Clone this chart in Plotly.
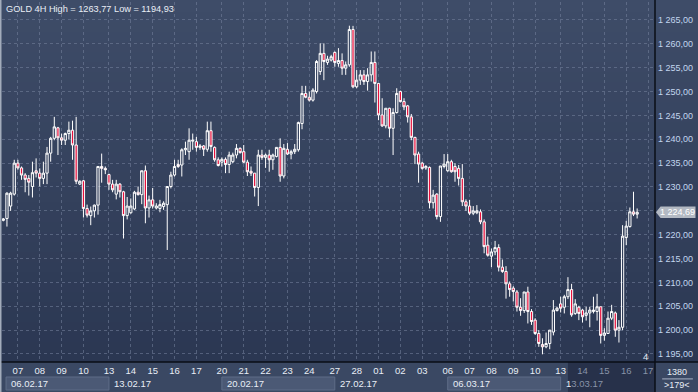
import pandas as pd
import plotly.graph_objects as go

# ---------------- data ----------------
opens = [1223.0, 1223.4, 1226.0, 1228.5, 1235.0, 1234.0, 1232.5, 1231.8, 1230.1, 1233.4,
         1232.9, 1231.8, 1232.9, 1237.1, 1240.2, 1242.4, 1240.3, 1239.8, 1241.2, 1241.9,
         1238.8, 1230.6, 1231.3, 1225.5, 1224.0, 1225.0, 1226.2, 1234.3, 1233.9, 1232.6,
         1230.6, 1228.5, 1230.6, 1229.0, 1224.0, 1224.6, 1225.4, 1228.9, 1228.4, 1233.4,
         1225.6, 1227.3, 1225.6, 1225.5, 1225.9, 1226.3, 1230.1, 1232.5, 1234.7, 1234.6,
         1237.8, 1237.4, 1239.6, 1239.5, 1238.3, 1238.6, 1237.9, 1241.8, 1238.3, 1235.7,
         1235.2, 1235.8, 1234.7, 1235.3, 1236.7, 1238.1, 1237.4, 1235.2, 1233.3, 1232.9,
         1229.9, 1236.7, 1236.2, 1236.7, 1235.7, 1236.4, 1238.3, 1232.3, 1237.9, 1236.9,
         1237.4, 1237.8, 1243.3, 1249.6, 1248.8, 1248.2, 1250.0, 1254.2, 1258.0, 1256.1,
         1256.6, 1258.2, 1255.9, 1256.5, 1254.9, 1255.6, 1263.0, 1251.0, 1252.4, 1253.5,
         1252.1, 1253.5, 1256.1, 1251.7, 1245.1, 1242.8, 1246.5, 1242.3, 1245.6, 1250.0,
         1247.9, 1247.0, 1244.7, 1240.4, 1236.9, 1235.0, 1234.0, 1234.1, 1226.7, 1228.5,
         1223.8, 1234.3, 1233.4, 1235.3, 1234.3, 1233.9, 1231.8, 1226.9, 1226.0, 1224.5,
         1224.6, 1224.8, 1222.7, 1217.8, 1215.5, 1216.4, 1217.3, 1213.2, 1212.3, 1209.7,
         1208.8, 1208.0, 1204.8, 1204.1, 1208.0, 1203.9, 1202.1, 1199.3, 1197.0, 1196.5,
         1197.2, 1199.6, 1204.1, 1205.5, 1204.8, 1207.0, 1208.5, 1203.5, 1204.8, 1204.2,
         1203.1, 1203.6, 1203.9, 1203.9, 1204.9, 1198.9, 1199.3, 1202.5, 1203.6, 1200.0,
         1200.6, 1219.4, 1221.7, 1224.8, 1224.3]
highs = [1223.5, 1228.9, 1229.0, 1235.7, 1235.7, 1234.3, 1232.9, 1232.5, 1235.3, 1236.0,
         1233.9, 1235.3, 1238.4, 1240.5, 1244.7, 1242.6, 1241.2, 1241.4, 1243.7, 1243.9,
         1244.7, 1231.4, 1231.5, 1226.3, 1225.9, 1226.3, 1234.3, 1237.0, 1234.3, 1232.8,
         1231.5, 1231.5, 1230.8, 1229.2, 1227.9, 1227.6, 1229.2, 1230.1, 1233.4, 1234.5,
         1228.2, 1229.8, 1226.6, 1227.3, 1227.0, 1230.1, 1233.2, 1235.7, 1235.7, 1238.1,
         1239.5, 1242.3, 1241.2, 1240.5, 1239.0, 1238.8, 1243.7, 1243.7, 1238.5, 1236.2,
         1236.2, 1236.2, 1237.4, 1237.2, 1239.0, 1238.3, 1238.8, 1235.7, 1234.3, 1232.9,
         1237.8, 1237.8, 1237.0, 1237.8, 1237.0, 1238.3, 1240.2, 1239.0, 1239.2, 1237.8,
         1239.0, 1243.7, 1251.2, 1251.2, 1250.0, 1250.7, 1256.6, 1260.1, 1260.1, 1257.5,
         1257.7, 1258.4, 1259.1, 1258.0, 1256.3, 1263.8, 1263.77, 1254.5, 1254.5, 1254.5,
         1254.9, 1258.4, 1258.4, 1251.7, 1248.6, 1246.5, 1246.6, 1246.5, 1250.7, 1250.2,
         1248.6, 1247.2, 1245.3, 1240.5, 1237.4, 1235.3, 1234.6, 1234.3, 1229.4, 1228.7,
         1234.4, 1236.9, 1236.9, 1235.7, 1235.0, 1234.6, 1234.8, 1227.4, 1227.3, 1226.0,
         1226.2, 1225.3, 1223.2, 1219.6, 1217.1, 1218.7, 1218.0, 1214.8, 1213.4, 1210.2,
         1209.2, 1208.4, 1206.7, 1208.0, 1209.1, 1204.4, 1202.5, 1200.0, 1198.3, 1199.5,
         1200.0, 1206.3, 1204.9, 1207.0, 1207.4, 1211.1, 1209.7, 1206.5, 1205.1, 1204.4,
         1204.9, 1204.9, 1207.0, 1207.6, 1204.9, 1200.4, 1203.9, 1205.3, 1203.9, 1202.1,
         1222.0, 1222.9, 1225.7, 1229.0, 1225.5]
lows = [1222.8, 1221.7, 1225.0, 1228.2, 1233.6, 1231.5, 1228.9, 1228.2, 1227.8, 1232.0,
        1230.1, 1230.6, 1230.6, 1235.3, 1239.8, 1236.7, 1238.8, 1238.8, 1240.0, 1235.7,
        1230.6, 1230.4, 1223.6, 1223.6, 1222.0, 1223.6, 1224.2, 1230.9, 1232.7, 1229.4,
        1228.9, 1227.4, 1227.8, 1219.2, 1223.2, 1224.4, 1225.2, 1228.2, 1226.4, 1222.4,
        1223.6, 1225.5, 1225.3, 1224.7, 1225.2, 1216.8, 1229.7, 1232.2, 1234.0, 1232.2,
        1236.7, 1235.7, 1237.8, 1237.4, 1237.8, 1236.5, 1237.4, 1237.4, 1235.3, 1234.3,
        1234.3, 1232.9, 1232.9, 1235.0, 1236.0, 1237.0, 1235.0, 1232.3, 1232.3, 1228.0,
        1226.0, 1235.7, 1234.0, 1233.2, 1233.6, 1236.2, 1231.1, 1231.8, 1236.7, 1235.8,
        1236.9, 1237.4, 1242.1, 1248.6, 1247.9, 1247.9, 1249.6, 1253.5, 1252.4, 1255.6,
        1256.3, 1255.2, 1255.2, 1253.5, 1253.5, 1255.2, 1250.7, 1250.7, 1251.4, 1251.4,
        1250.2, 1252.1, 1247.7, 1244.0, 1242.6, 1242.3, 1240.4, 1236.7, 1245.4, 1247.7,
        1246.1, 1243.5, 1239.8, 1234.8, 1230.9, 1233.6, 1233.6, 1225.5, 1225.5, 1223.2,
        1222.7, 1233.9, 1233.2, 1233.0, 1231.1, 1230.3, 1226.0, 1225.0, 1224.1, 1224.1,
        1224.3, 1222.2, 1216.1, 1215.4, 1213.2, 1215.7, 1212.3, 1212.0, 1206.6, 1207.0,
        1206.0, 1203.9, 1203.0, 1203.6, 1201.4, 1201.1, 1199.0, 1196.5, 1194.93, 1196.2,
        1196.0, 1198.9, 1203.9, 1203.7, 1203.5, 1206.5, 1202.8, 1203.2, 1202.1, 1201.6,
        1202.0, 1200.6, 1203.5, 1202.0, 1197.2, 1197.8, 1199.2, 1202.1, 1198.6, 1197.4,
        1200.0, 1217.8, 1221.5, 1223.9, 1223.4]
closes = [1223.3, 1228.7, 1228.7, 1235.0, 1234.0, 1232.5, 1231.6, 1231.0, 1233.0, 1232.9,
          1231.8, 1232.9, 1237.1, 1240.2, 1242.6, 1240.3, 1239.8, 1241.2, 1241.9, 1238.8,
          1231.2, 1231.2, 1225.5, 1224.1, 1225.0, 1226.2, 1234.3, 1233.9, 1233.6, 1230.6,
          1229.4, 1230.6, 1229.0, 1224.0, 1226.0, 1226.0, 1228.9, 1228.4, 1233.4, 1225.6,
          1227.3, 1226.0, 1226.0, 1226.3, 1226.6, 1230.1, 1232.5, 1234.3, 1234.3, 1237.8,
          1238.1, 1239.8, 1239.8, 1238.3, 1238.6, 1237.9, 1241.8, 1238.5, 1235.7, 1234.5,
          1235.8, 1234.7, 1236.7, 1236.7, 1238.1, 1237.2, 1235.2, 1233.2, 1232.9, 1229.9,
          1236.7, 1236.2, 1236.7, 1235.7, 1236.7, 1238.3, 1232.3, 1238.1, 1236.9, 1237.4,
          1237.9, 1243.5, 1249.6, 1248.8, 1248.2, 1250.3, 1256.3, 1258.0, 1256.3, 1256.8,
          1257.3, 1256.1, 1256.5, 1254.9, 1255.6, 1263.0, 1251.0, 1252.4, 1253.5, 1252.1,
          1253.5, 1256.1, 1251.7, 1245.1, 1242.8, 1246.5, 1242.3, 1245.6, 1249.6, 1247.9,
          1246.8, 1244.7, 1240.4, 1236.7, 1234.8, 1233.9, 1234.3, 1226.7, 1228.3, 1223.8,
          1234.4, 1234.8, 1235.3, 1233.2, 1233.2, 1231.8, 1226.9, 1226.0, 1224.5, 1225.0,
          1225.0, 1222.7, 1217.5, 1215.7, 1216.4, 1217.3, 1213.2, 1212.3, 1209.7, 1208.5,
          1208.1, 1204.8, 1204.1, 1208.0, 1203.9, 1201.8, 1199.3, 1197.2, 1196.5, 1197.2,
          1200.0, 1204.2, 1204.6, 1204.6, 1207.0, 1208.5, 1203.2, 1205.5, 1203.5, 1202.8,
          1203.6, 1204.2, 1204.2, 1204.9, 1198.9, 1199.4, 1202.5, 1203.9, 1200.0, 1200.6,
          1219.7, 1221.8, 1224.8, 1224.3, 1224.69]

symbol = "GOLD 4H"
period_high = 1263.77
period_low = 1194.93
last_price = 1224.69
price_ticks = list(range(1195, 1266, 5))
trading_days = pd.bdate_range("2017-02-07", "2017-03-17")
day_labels = [d.strftime("%d") for d in trading_days]
week_starts = pd.date_range("2017-02-06", "2017-03-13", freq="7D")
week_labels = [d.strftime("%d.%m.%y") for d in week_starts]
bars_count = "1380"
zoom_text = ">179<"
corner_mark = "4"

# ---------------- helpers ----------------
origin = week_starts[0]
BARS_PER_DAY, BARS_PER_WEEK = 6, 31


def bar_pos(d):
    w = (d - origin).days // 7
    return BARS_PER_WEEK * w + BARS_PER_DAY * d.weekday() - 2


def price_fmt(v, sep=" "):
    s = f"{v:,.2f}"
    return s.replace(",", sep).replace(".", ",")


x = list(range(len(opens)))
X_MIN, X_MAX = -0.36, 178.9
Y_MIN, Y_MAX = 1193.32, 1268.77
DIM_FROM = 155.0  # start of the darkened strip in the date axis

FONT = "Liberation Sans"
TXT = "#e9eef6"
DIM = "#8793a8"
PRICE_TXT = "#c2d6ee"
GRID = "rgba(118,132,158,0.55)"

tick_vals = [bar_pos(d) for d in trading_days]
tick_text = [lab if v < DIM_FROM else f"<span style='color:{DIM}'>{lab}</span>"
             for v, lab in zip(tick_vals, day_labels)]
price_text = ["" if abs(v - last_price) < 3 else price_fmt(v) for v in price_ticks]

fig = go.Figure()
fig.add_trace(go.Candlestick(
    x=x, open=opens, high=highs, low=lows, close=closes,
    increasing=dict(line=dict(color="#ffffff", width=1), fillcolor="rgba(0,0,0,0)"),
    decreasing=dict(line=dict(color="#ffffff", width=1), fillcolor="#e8103c"),
    whiskerwidth=0, hoverinfo="skip",
))

shapes = []
# background gradient (plot area + price panel)
n = 36
top_c, bot_c = (62, 76, 104), (43, 55, 82)
for i in range(n):
    t = (i + 0.5) / n
    c = tuple(round(top_c[k] + (bot_c[k] - top_c[k]) * t) for k in range(3))
    shapes.append(dict(type="rect", xref="paper", yref="paper",
                       x0=-0.01, x1=1.07, y0=1 - (i + 1) / n, y1=1.01 if i == 0 else 1 - i / n,
                       fillcolor=f"rgb{c}", line=dict(width=0), layer="below"))
# date axis panel
shapes.append(dict(type="rect", xref="paper", yref="paper", x0=-0.01, x1=1.07, y0=-0.09, y1=0,
                   fillcolor="#3a4863", line=dict(width=0), layer="below"))
# alternating week boxes
week_pos = [bar_pos(d) for d in week_starts] + [bar_pos(week_starts[-1]) + BARS_PER_WEEK]
for w in range(len(week_starts)):
    if w % 2 == 0:
        shapes.append(dict(type="rect", xref="x", yref="paper",
                           x0=max(week_pos[w], 0.75), x1=week_pos[w + 1],
                           y0=-0.0778, y1=-0.0417, fillcolor="#4b5975",
                           line=dict(color="#5f6d88", width=1), layer="below"))
# darkened strip
shapes.append(dict(type="rect", xref="x", yref="paper", x0=DIM_FROM, x1=X_MAX, y0=-0.09, y1=0,
                   fillcolor="#27314a", line=dict(width=0), layer="below"))
# separators
shapes.append(dict(type="line", xref="paper", yref="paper", x0=1.0, x1=1.0, y0=-0.09, y1=1.01,
                   line=dict(color="#0a0e16", width=1.5), layer="above"))
shapes.append(dict(type="line", xref="paper", yref="paper", x0=-0.01, x1=1.07, y0=0, y1=0,
                   line=dict(color="#0a0e16", width=1.5), layer="above"))
shapes.append(dict(type="line", xref="paper", yref="paper", x0=1.011, x1=1.058, y0=-0.047, y1=-0.047,
                   line=dict(color="#aab4c6", width=1), layer="above"))
# frame
shapes.append(dict(type="line", xref="paper", yref="paper", x0=-0.0023, x1=-0.0023, y0=-0.09, y1=1.01,
                   line=dict(color="#a3acbb", width=2), layer="above"))
shapes.append(dict(type="line", xref="paper", yref="paper", x0=-0.01, x1=1.07, y0=-0.0847, y1=-0.0847,
                   line=dict(color="#a3acbb", width=1), layer="above"))
# last price tag
shapes.append(dict(type="path", xref="paper", yref="y",
                   path=f"M 1.0015,{last_price} L 1.0085,{last_price + 1.2} L 1.062,{last_price + 1.2} "
                        f"L 1.062,{last_price - 1.2} L 1.0085,{last_price - 1.2} Z",
                   fillcolor="#b3b9c3", line=dict(width=0), layer="above"))

annotations = [
    dict(xref="paper", yref="paper", x=0, y=1, xshift=2, yshift=0, xanchor="left", yanchor="top",
         text=f"{symbol} High = {price_fmt(period_high, '')} Low = {price_fmt(period_low, '')}",
         showarrow=False, font=dict(family=FONT, size=9.2, color=TXT)),
    dict(xref="paper", yref="y", x=1.0345, y=last_price, xanchor="center", yanchor="middle",
         text=price_fmt(last_price), showarrow=False, font=dict(family=FONT, size=9, color="#ffffff")),
    dict(xref="paper", yref="paper", x=1.0337, y=-0.027, xanchor="center", yanchor="middle",
         text=bars_count, showarrow=False, font=dict(family=FONT, size=9, color=TXT)),
    dict(xref="paper", yref="paper", x=1.0337, y=-0.064, xanchor="center", yanchor="middle",
         text=zoom_text, showarrow=False, font=dict(family=FONT, size=9, color=TXT)),
    dict(xref="paper", yref="paper", x=0.9847, y=0.014, xanchor="center", yanchor="middle",
         text=corner_mark, showarrow=False, font=dict(family=FONT, size=9.5, color=TXT)),
]
for w, lab in enumerate(week_labels):
    xpos = max(week_pos[w], 0.75)
    txt = lab if week_pos[w] + 2 < DIM_FROM else lab[0] + f"<span style='color:{DIM}'>{lab[1:]}</span>"
    annotations.append(dict(xref="x", yref="paper", x=xpos, y=-0.061, xshift=3,
                            xanchor="left", yanchor="middle", text=txt, showarrow=False,
                            font=dict(family=FONT, size=9.5, color=TXT)))

fig.update_layout(
    width=698, height=392, margin=dict(l=2, r=43, t=2, b=30),
    paper_bgcolor="#3a4863", plot_bgcolor="rgba(0,0,0,0)", showlegend=False,
    boxgap=0.12, hovermode=False,
    shapes=shapes, annotations=annotations,
    xaxis=dict(range=[X_MIN, X_MAX], tickvals=tick_vals, ticktext=tick_text,
               showgrid=True, gridcolor=GRID, griddash="3px,3px", gridwidth=1,
               zeroline=False, showline=False, ticks="", ticklabelstandoff=1,
               tickfont=dict(family=FONT, size=9.5, color=TXT),
               rangeslider=dict(visible=False), fixedrange=True),
    yaxis=dict(range=[Y_MIN, Y_MAX], side="right", tickvals=price_ticks,
               ticktext=price_text,
               showgrid=True, gridcolor=GRID, griddash="3px,3px", gridwidth=1,
               zeroline=False, showline=False, ticks="", ticklabelstandoff=2,
               tickfont=dict(family=FONT, size=9, color=PRICE_TXT), fixedrange=True),
)

fig.write_html("out.html", config={"displayModeBar": False, "staticPlot": True},
               post_script="document.body.style.margin='0px';"
                           "document.body.style.overflow='hidden';")
